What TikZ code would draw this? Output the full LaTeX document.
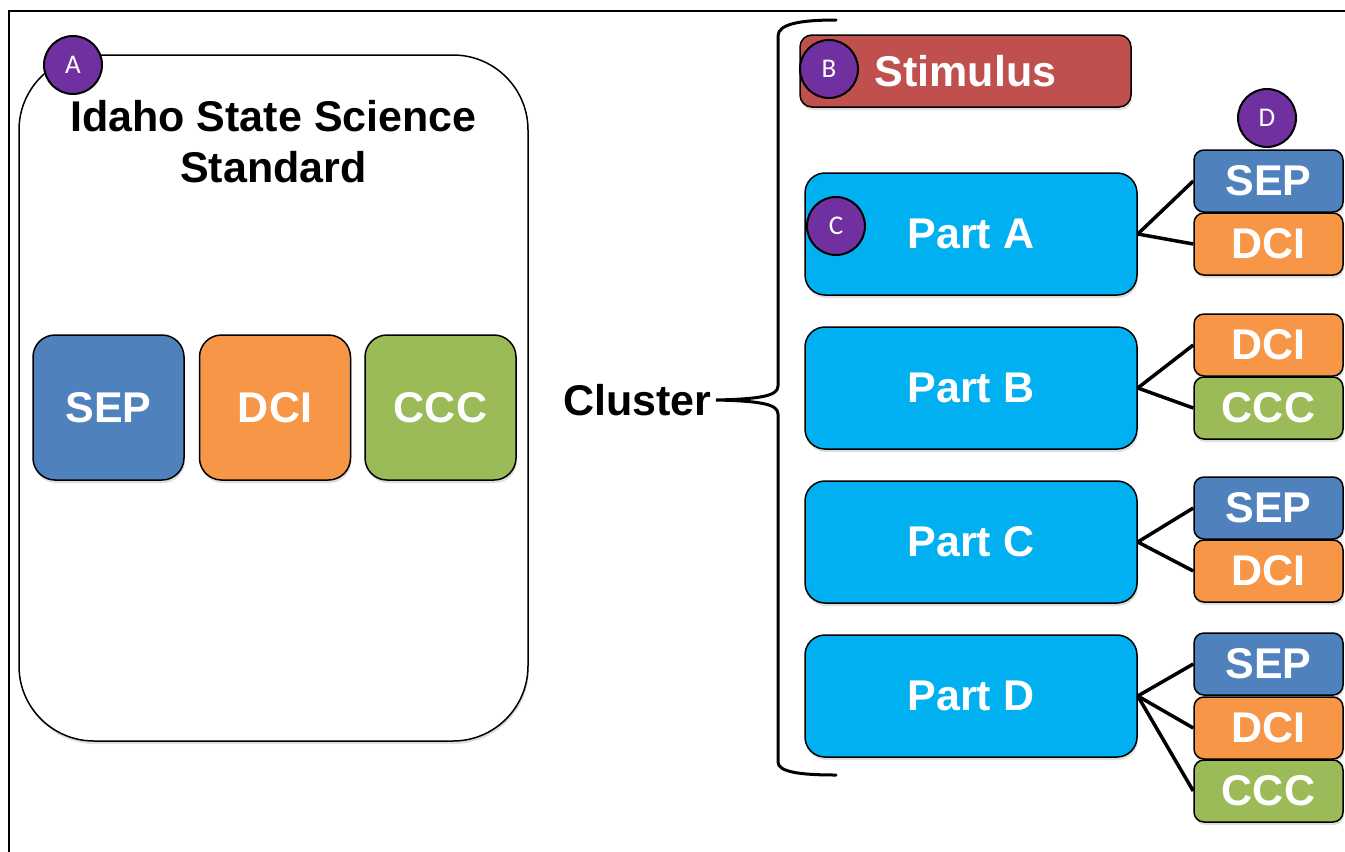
\documentclass[tikz,border=0pt]{standalone}
\usepackage{fontspec}
\setmainfont{Liberation Sans}
\newfontfamily\circfont{Carlito}
\usetikzlibrary{shadows}
\definecolor{sepc}{HTML}{4F81BD}
\definecolor{dcic}{HTML}{F79646}
\definecolor{cccc}{HTML}{9BBB59}
\definecolor{stimc}{HTML}{C0504D}
\definecolor{partc}{HTML}{00B0F0}
\definecolor{purp}{HTML}{7030A0}
\begin{document}
\begin{tikzpicture}[x=1pt,y=-1pt,
  shad/.style={drop shadow={shadow xshift=1pt, shadow yshift=-3pt, opacity=0.25}},
  box/.style={draw=black, line width=1.5pt, inner sep=0pt, shad},
  lbl/.style={text=white, font=\fontsize{43}{51}\selectfont\bfseries},
  bigbox/.style={box, fill=white, rounded corners=75pt, minimum width=509pt, minimum height=686pt},
  sq/.style={box, lbl, rounded corners=22pt, minimum width=151pt, minimum height=145pt},
  stimbox/.style={box, lbl, fill=stimc, rounded corners=12pt, minimum width=331pt, minimum height=72pt},
  partbox/.style={box, lbl, fill=partc, rounded corners=20pt, minimum width=332pt, minimum height=122pt},
  small/.style={box, lbl, rounded corners=10pt, minimum width=149pt, minimum height=62pt},
  badge/.style={circle, draw=black, line width=2pt, fill=purp, text=white, minimum size=58pt, inner sep=0pt, font=\circfont\fontsize{27}{27}\selectfont},
  conn/.style={draw=black, line width=3.5pt},
  bracestyle/.style={draw=black, line width=3pt, line cap=round},
  darktext/.style={text=black, font=\fontsize{43}{51}\selectfont\bfseries, align=center}
]
\useasboundingbox (0,0) rectangle (1345,852);
% frame
\coordinate (fr1) at (1345,11);
\coordinate (fr2) at (9,11);
\coordinate (fr3) at (9,852);
\draw[line width=2pt] (fr1) -- (fr2) -- (fr3);

% left standard box
\node[bigbox] (std) at (273.5,398) {};
\node[darktext] (title) at (273.5,142) {Idaho State Science\\Standard};
\node[sq, fill=sepc] (lsep) at (108.5,407.5) {SEP};
\node[sq, fill=dcic] (ldci) at (275,407.5) {DCI};
\node[sq, fill=cccc] (lccc) at (440.5,407.5) {CCC};
\node[badge] (bA) at (73,65) {A};

% cluster brace
\node[darktext] (cluster) at (637.5,400) {Cluster};
\coordinate (brtop) at (836,20);
\coordinate (brtip) at (716,400);
\coordinate (brbot) at (836,775);
\draw[bracestyle] (brtop) .. controls (800,20) and (778,24) .. (778,36)
  -- (778,386) .. controls (778,396) and (760,399) .. (brtip)
  .. controls (760,401) and (778,404) .. (778,414)
  -- (778,762) .. controls (778,772) and (800,775) .. (brbot);

% stimulus
\node[stimbox] (stim) at (965.5,71) {Stimulus};
\node[badge] (bB) at (829,69) {B};

% parts
\node[partbox] (pA) at (971,234) {Part A};
\node[partbox] (pB) at (971,388) {Part B};
\node[partbox] (pC) at (971,542) {Part C};
\node[partbox] (pD) at (971,696) {Part D};
\node[badge] (bC) at (836,226) {C};

% small boxes
\node[small, fill=sepc] (a1) at (1268.5,181) {SEP};
\node[small, fill=dcic] (a2) at (1268.5,244) {DCI};
\node[small, fill=dcic] (b1) at (1268.5,345) {DCI};
\node[small, fill=cccc] (b2) at (1268.5,408) {CCC};
\node[small, fill=sepc] (c1) at (1268.5,508) {SEP};
\node[small, fill=dcic] (c2) at (1268.5,571) {DCI};
\node[small, fill=sepc] (d1) at (1268.5,664) {SEP};
\node[small, fill=dcic] (d2) at (1268.5,728) {DCI};
\node[small, fill=cccc] (d3) at (1268.5,791) {CCC};
\node[badge] (bD) at (1267,118) {D};

% connectors
\draw[conn] (pA.east) -- (a1.west);
\draw[conn] (pA.east) -- (a2.west);
\draw[conn] (pB.east) -- (b1.west);
\draw[conn] (pB.east) -- (b2.west);
\draw[conn] (pC.east) -- (c1.west);
\draw[conn] (pC.east) -- (c2.west);
\draw[conn] (pD.east) -- (d1.west);
\draw[conn] (pD.east) -- (d2.west);
\draw[conn] (pD.east) -- (d3.west);
\end{tikzpicture}
\end{document}
